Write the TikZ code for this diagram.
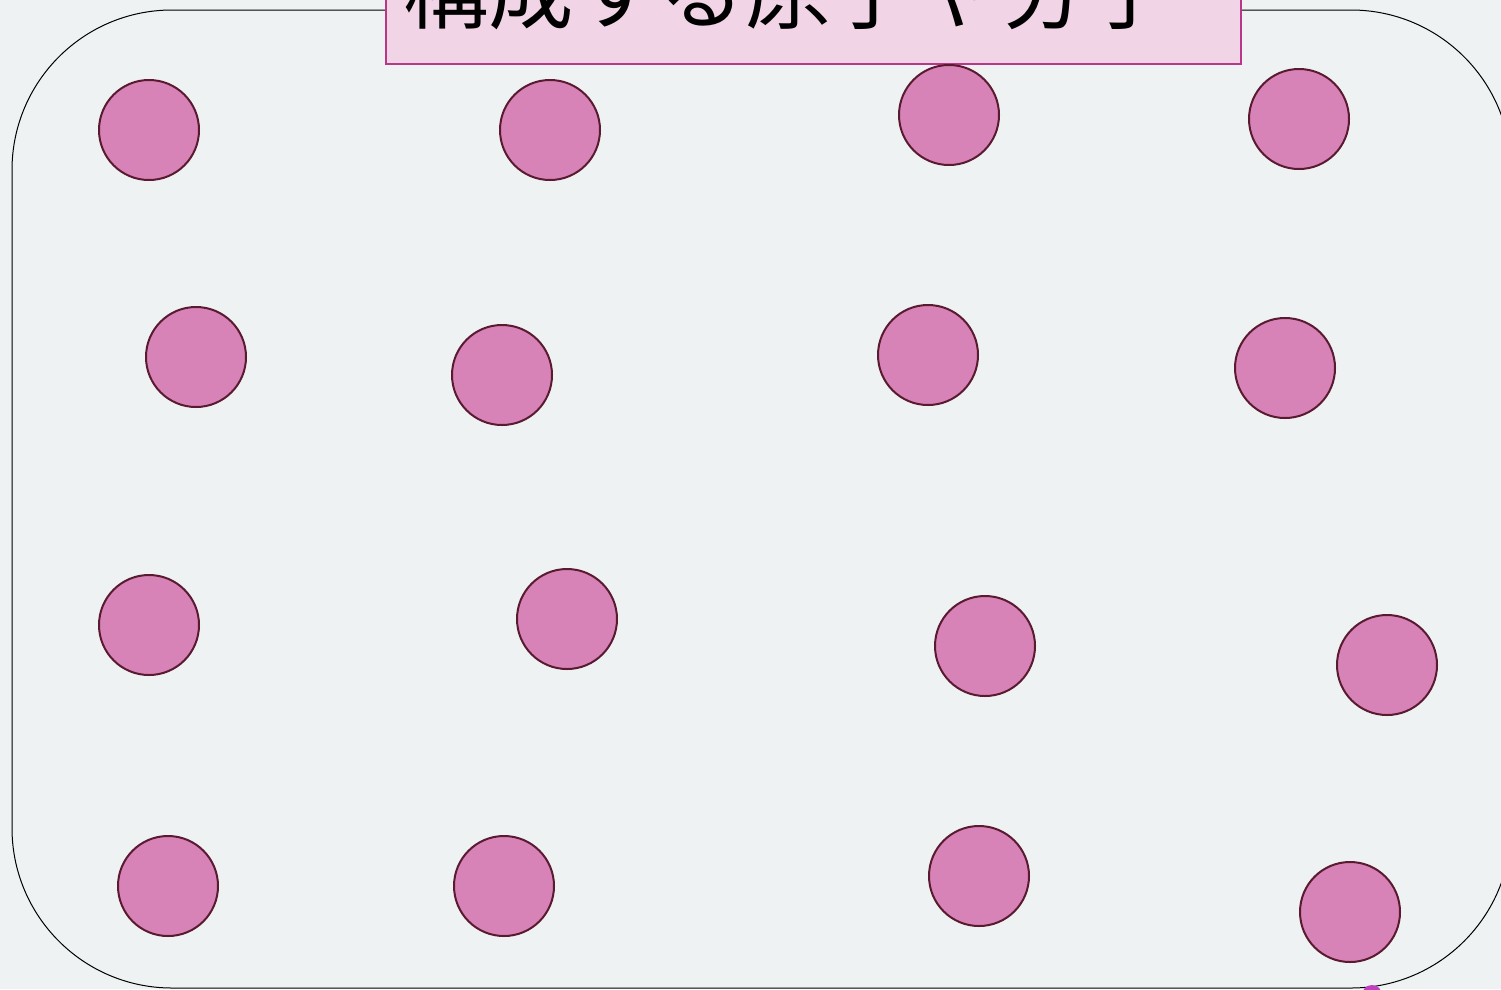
\documentclass[tikz,border=0pt]{standalone}
\usepackage{fontspec}
\newfontfamily\cjk{Noto Sans CJK JP}
\definecolor{bgc}{HTML}{EEF2F2}
\definecolor{atomfill}{HTML}{D783B8}
\definecolor{atomdraw}{HTML}{5A1A30}
\definecolor{titlefill}{HTML}{F1D5E7}
\definecolor{titledraw}{HTML}{B8378A}
\definecolor{blob}{HTML}{C040C0}
\tikzset{
  atom/.style={circle, fill=atomfill, draw=atomdraw, line width=2pt, minimum size=100pt, inner sep=0pt},
  titlebox/.style={fill=titlefill, draw=titledraw, line width=1.4pt},
}
\begin{document}
\begin{tikzpicture}[x=1pt,y=-1pt]
\clip (0,0) rectangle (1501,989);
\useasboundingbox (0,0) rectangle (1501,989);
\fill[bgc] (0,0) rectangle (1501,989);
\draw[black, line width=1pt, rounded corners=160pt] (12,10) rectangle (1511,988);
\node[circle, fill=blob, inner sep=0pt, minimum size=20pt] (blob) at (1372,995) {};
% title
\draw[titlebox] (386,-80) rectangle (1241,64);
\node[anchor=base west, inner sep=0pt, font=\cjk\fontsize{85.5}{90}\selectfont] (title) at (403,22) {構成する原子や分子};
% atoms
\node[atom] (a11) at (149,130) {};
\node[atom] (a12) at (550,130) {};
\node[atom] (a13) at (949,115) {};
\node[atom] (a14) at (1299,119) {};
\node[atom] (a21) at (196,357) {};
\node[atom] (a22) at (502,375) {};
\node[atom] (a23) at (928,355) {};
\node[atom] (a24) at (1285,368) {};
\node[atom] (a31) at (149,625) {};
\node[atom] (a32) at (567,619) {};
\node[atom] (a33) at (985,646) {};
\node[atom] (a34) at (1387,665) {};
\node[atom] (a41) at (168,886) {};
\node[atom] (a42) at (504,886) {};
\node[atom] (a43) at (979,876) {};
\node[atom] (a44) at (1350,912) {};
\end{tikzpicture}
\end{document}
